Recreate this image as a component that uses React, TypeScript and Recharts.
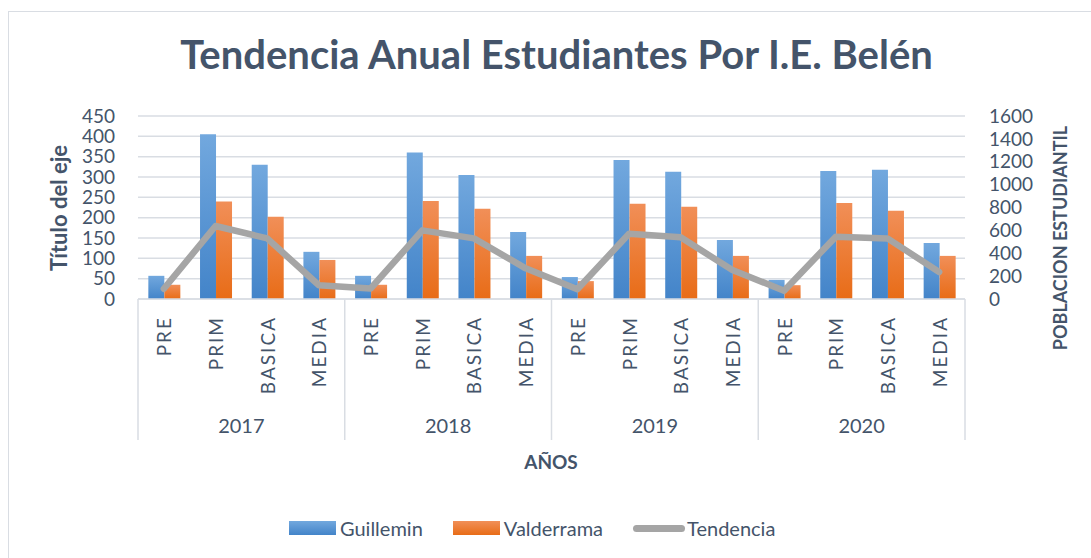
import React from 'react';
import { ComposedChart, Bar, Line, XAxis, YAxis, CartesianGrid, Label } from 'recharts';

const years = ['2017', '2018', '2019', '2020'];
const levels = ['PRE', 'PRIM', 'BASICA', 'MEDIA'];

// Guillemin / Valderrama por nivel, año a año
const guillemin = [57, 405, 330, 116, 57, 360, 305, 165, 54, 342, 313, 145, 47, 315, 318, 138];
const valderrama = [35, 240, 202, 96, 35, 241, 222, 106, 44, 234, 227, 106, 34, 236, 217, 106];
const tendencia = [90, 638, 530, 120, 92, 600, 530, 268, 85, 571, 539, 253, 73, 545, 530, 236];

const leftTicks = [0, 50, 100, 150, 200, 250, 300, 350, 400, 450];
const rightTicks = [0, 200, 400, 600, 800, 1000, 1200, 1400, 1600];

const data = years.flatMap((year, yi) =>
  levels.map((level, li) => {
    const i = yi * 4 + li;
    return {
      key: `${year}-${level}`,
      year,
      level,
      guillemin: guillemin[i],
      valderrama: valderrama[i],
      tendencia: tendencia[i],
    };
  })
);

const W = 1091;
const H = 558;
const PLOT_LEFT = 138;
const PLOT_RIGHT = 965;
const PLOT_TOP = 116;
const PLOT_BOTTOM = 299;
const AXIS_BOTTOM = 440;
const BAND = (PLOT_RIGHT - PLOT_LEFT) / data.length;

const TEXT = '#44546A';
const FONT = 'Lato, "Open Sans", sans-serif';
const GRID = '#D9DDE3';

const CategoryTick = (props: any) => {
  const { payload, index } = props;
  const cx = payload.coordinate;
  const d = data[index];
  return (
    <g>
      <text
        x={cx}
        y={316}
        transform={`rotate(-90 ${cx} 316)`}
        textAnchor="end"
        dominantBaseline="central"
        fill={TEXT}
        fontSize={19}
        letterSpacing={2}
        fontFamily={FONT}
      >
        {d.level}
      </text>
      {index % 4 === 0 && (
        <line x1={cx - BAND / 2} x2={cx - BAND / 2} y1={PLOT_BOTTOM} y2={AXIS_BOTTOM} stroke={GRID} strokeWidth={1.5} />
      )}
      {index === data.length - 1 && (
        <line x1={cx + BAND / 2} x2={cx + BAND / 2} y1={PLOT_BOTTOM} y2={AXIS_BOTTOM} stroke={GRID} strokeWidth={1.5} />
      )}
      {index % 4 === 1 && (
        <text x={cx + BAND / 2} y={425} textAnchor="middle" dominantBaseline="central" fill={TEXT} fontSize={20} fontFamily={FONT}>
          {d.year}
        </text>
      )}
    </g>
  );
};

const LegendItem = ({ kind, color, label }: { kind: 'bar' | 'line'; color: string; label: string }) => (
  <div style={{ display: 'flex', alignItems: 'center', marginRight: 30 }}>
    {kind === 'bar' ? (
      <div style={{ width: 47, height: 14, background: color, marginRight: 4 }} />
    ) : (
      <div style={{ width: 52, height: 7, borderRadius: 4, background: color, marginRight: 2 }} />
    )}
    <span style={{ color: TEXT, fontSize: 20, fontFamily: FONT }}>{label}</span>
  </div>
);

export default function App() {
  return (
    <div style={{ position: 'absolute', left: 0, top: 0, width: W, height: H, overflow: 'hidden', background: '#fff' }}>
      <div
        style={{
          position: 'absolute',
          left: 8,
          top: 11,
          width: W,
          height: H,
          border: `1.5px solid ${GRID}`,
        }}
      />
      <div
        style={{
          position: 'absolute',
          left: 0,
          top: 30,
          width: W + 22,
          textAlign: 'center',
          color: TEXT,
          fontFamily: FONT,
          fontWeight: 700,
          fontSize: 40,
        }}
      >
        Tendencia Anual Estudiantes Por I.E. Belén
      </div>
      <ComposedChart
        width={W}
        height={H}
        data={data}
        barCategoryGap="20%"
        barGap={0}
        margin={{ top: PLOT_TOP, left: 40, right: 40, bottom: H - AXIS_BOTTOM }}
        style={{ position: 'absolute', left: 0, top: 0 }}
      >
        <defs>
          <linearGradient id="gBlue" x1="0" y1="0" x2="0" y2="1">
            <stop offset="0%" stopColor="#72A8DE" />
            <stop offset="100%" stopColor="#4384C9" />
          </linearGradient>
          <linearGradient id="gOrange" x1="0" y1="0" x2="0" y2="1">
            <stop offset="0%" stopColor="#F18F58" />
            <stop offset="100%" stopColor="#E86C17" />
          </linearGradient>
        </defs>
        <CartesianGrid vertical={false} stroke={GRID} strokeWidth={1.5} yAxisId="left" />
        <XAxis
          dataKey="key"
          interval={0}
          tickLine={false}
          axisLine={{ stroke: GRID, strokeWidth: 1.5 }}
          height={AXIS_BOTTOM - PLOT_BOTTOM}
          tick={<CategoryTick />}
        >
          <Label
            content={() => (
              <text x={551} y={461} textAnchor="middle" dominantBaseline="central" fill={TEXT} fontSize={19} fontWeight={700} fontFamily={FONT}>
                AÑOS
              </text>
            )}
          />
        </XAxis>
        <YAxis
          yAxisId="left"
          domain={[0, 450]}
          ticks={leftTicks}
          interval={0}
          width={PLOT_LEFT - 40}
          axisLine={false}
          tickLine={false}
          tickSize={0}
          tickMargin={23}
          tick={{ fill: TEXT, fontSize: 19, fontFamily: FONT }}
        >
          <Label
            content={() => (
              <text
                x={58}
                y={208}
                transform="rotate(-90 58 208)"
                textAnchor="middle"
                dominantBaseline="central"
                fill={TEXT}
                fontSize={22}
                fontWeight={700}
                fontFamily={FONT}
              >
                Título del eje
              </text>
            )}
          />
        </YAxis>
        <YAxis
          yAxisId="right"
          orientation="right"
          domain={[0, 1600]}
          ticks={rightTicks}
          interval={0}
          width={W - PLOT_RIGHT - 40}
          axisLine={false}
          tickLine={false}
          tickSize={0}
          tickMargin={24}
          tick={{ fill: TEXT, fontSize: 19, fontFamily: FONT, textAnchor: 'start' }}
        >
          <Label
            content={() => (
              <text
                x={1060}
                y={238}
                transform="rotate(-90 1060 238)"
                textAnchor="middle"
                dominantBaseline="central"
                fill={TEXT}
                fontSize={18}
                fontWeight={700}
                fontFamily={FONT}
              >
                POBLACION ESTUDIANTIL
              </text>
            )}
          />
        </YAxis>
        <Bar yAxisId="left" dataKey="guillemin" name="Guillemin" fill="url(#gBlue)" isAnimationActive={false} />
        <Bar yAxisId="left" dataKey="valderrama" name="Valderrama" fill="url(#gOrange)" isAnimationActive={false} />
        <Line
          yAxisId="right"
          type="linear"
          dataKey="tendencia"
          name="Tendencia"
          stroke="#A5A5A5"
          strokeWidth={6.5}
          strokeLinecap="round"
          strokeLinejoin="round"
          dot={false}
          activeDot={false}
          isAnimationActive={false}
        />
      </ComposedChart>
      <div style={{ position: 'absolute', left: 289, top: 516, display: 'flex', alignItems: 'center' }}>
        <LegendItem kind="bar" color="linear-gradient(#72A8DE, #4384C9)" label="Guillemin" />
        <LegendItem kind="bar" color="linear-gradient(#F18F58, #E86C17)" label="Valderrama" />
        <LegendItem kind="line" color="#A5A5A5" label="Tendencia" />
      </div>
    </div>
  );
}
